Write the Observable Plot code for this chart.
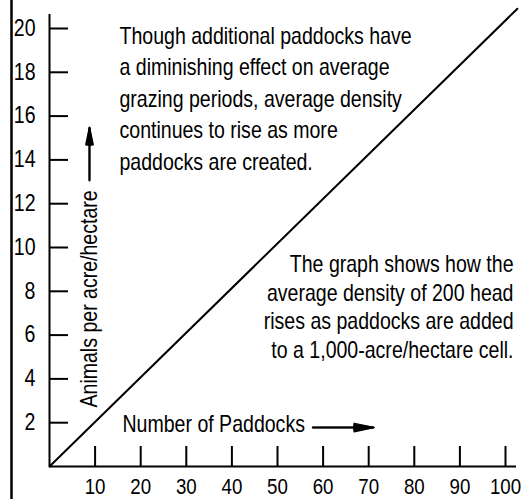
<!DOCTYPE html>
<html><head><meta charset="utf-8">
<script src="https://cdn.jsdelivr.net/npm/d3@7"></script>
<script src="https://cdn.jsdelivr.net/npm/@observablehq/plot@0.6"></script>
<style>html,body{margin:0;padding:0;background:#fff}</style>
</head><body><div id="chart"></div>
<script>
// Data
const paddocks = [0, 102.6];
const density = [0, 20.9];
const xTicks = [10, 20, 30, 40, 50, 60, 70, 80, 90, 100];
const yTicks = [2, 4, 6, 8, 10, 12, 14, 16, 18, 20];
const xLabel = "Number of Paddocks";
const yLabel = "Animals per acre/hectare";
const noteTop = [
  "Though additional paddocks have",
  "a diminishing effect on average",
  "grazing periods, average density",
  "continues to rise as more",
  "paddocks are created."
];
const noteBottom = [
  "The graph shows how the",
  "average density of 200 head",
  "rises as paddocks are added",
  "to a 1,000-acre/hectare cell."
];

const rows = paddocks.map((p, i) => ({p, d: density[i]}));
const font = "'Liberation Sans', Arial, sans-serif";
const fs = 23;
const headAngles = [6, 12, 18, 24];

const chart = Plot.plot({
  width: 522, height: 499,
  marginLeft: 49, marginRight: 17, marginTop: 28, marginBottom: 33,
  x: {domain: [0, 100], label: null},
  y: {domain: [0, 20], label: null},
  style: {fontFamily: font, fontSize: fs + "px", color: "#000", background: "#fff", overflow: "visible"},
  marks: [
    // left border of the figure
    Plot.ruleX([0], {dx: -38, insetTop: -28, insetBottom: -33, strokeWidth: 2.5}),
    // axis lines
    Plot.ruleX([0], {insetTop: -14, strokeWidth: 2}),
    Plot.ruleY([0], {insetRight: -11, strokeWidth: 2}),
    // inward ticks
    Plot.axisY(yTicks, {anchor: "left", tickSize: -19, fill: "none", strokeWidth: 2}),
    Plot.axisX(xTicks, {anchor: "bottom", tickSize: -20, fill: "none", strokeWidth: 2}),
    // tick labels
    Plot.axisY(yTicks, {anchor: "left", tickSize: 0, tickPadding: 14, fontSize: fs, fill: "#000"}),
    Plot.axisX(xTicks, {anchor: "bottom", tickSize: 0, tickPadding: 12, fontSize: 22, fill: "#000"}),
    // data line
    Plot.line(rows, {x: "p", y: "d", strokeWidth: 2}),
    // axis titles with arrows
    Plot.text([xLabel], {frameAnchor: "bottom-left", dx: 73, dy: -42, textAnchor: "start", lineAnchor: "middle", fontSize: fs, fill: "#000"}),
    ...headAngles.map(a => Plot.arrow([0], {x1: 57.7, x2: 71.1, y1: 1.78, y2: 1.78, headLength: 20, headAngle: a, strokeWidth: 1.5})),
    Plot.text([yLabel], {frameAnchor: "bottom-left", dx: 40, dy: -59, rotate: -90, textAnchor: "start", lineAnchor: "middle", fontSize: fs, fill: "#000"}),
    ...headAngles.map(a => Plot.arrow([0], {x1: 8.77, x2: 8.77, y1: 13.06, y2: 15.48, headLength: 20, headAngle: a, strokeWidth: 1.5})),
    // annotations
    Plot.text([noteTop.join("\n")], {frameAnchor: "top-left", dx: 70, dy: -7, textAnchor: "start", lineAnchor: "top", lineHeight: 1.37, fontSize: fs, fill: "#000"}),
    Plot.text([noteBottom.join("\n")], {frameAnchor: "top-right", dx: 8, dy: 223, textAnchor: "end", lineAnchor: "top", lineHeight: 1.25, fontSize: fs, fill: "#000"})
  ]
});
document.getElementById("chart").append(chart);

// Emulate the narrow typeface of the original: condense each text horizontally
// around its own anchor point (text direction only).
const squeeze = 0.85;
chart.querySelectorAll("text").forEach(t => {
  const x = +t.getAttribute("x") || 0, y = +t.getAttribute("y") || 0;
  let tr = t.getAttribute("transform") || "";
  if (x || y) {
    tr += ` translate(${x},${y})`;
    t.removeAttribute("x");
    t.removeAttribute("y");
    t.querySelectorAll("tspan").forEach(s => { if (s.hasAttribute("x")) s.setAttribute("x", 0); });
  }
  t.setAttribute("transform", `${tr} scale(${squeeze},1)`.trim());
});
</script>
</body></html>
